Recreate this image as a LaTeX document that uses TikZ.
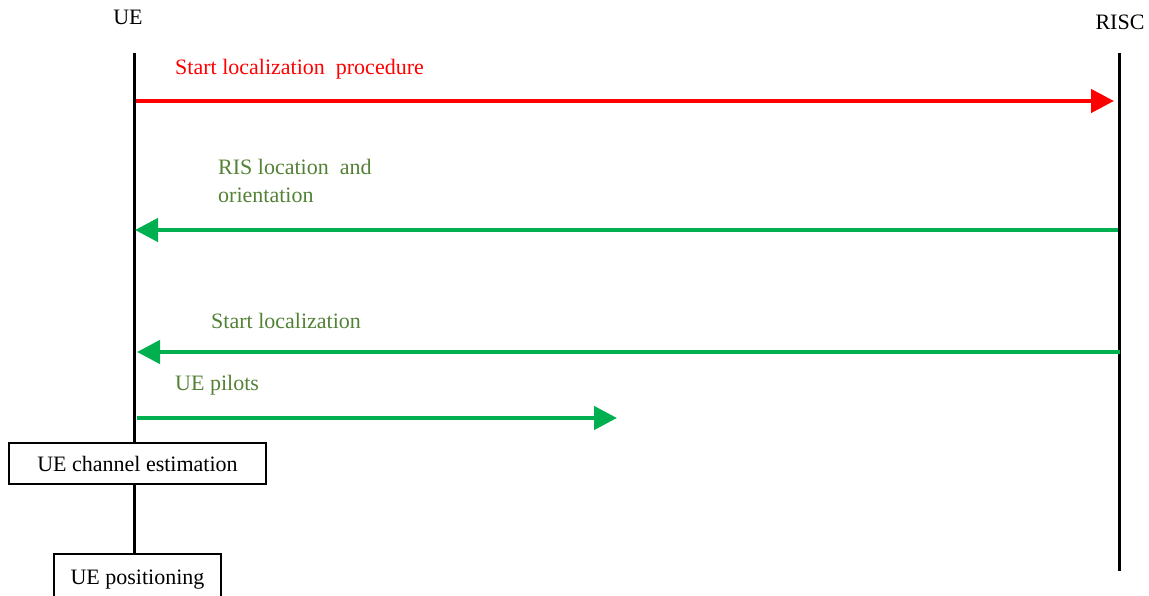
\documentclass[tikz,border=0pt]{standalone}
\usepackage{fontspec}
\setmainfont{Liberation Serif}
\usetikzlibrary{arrows.meta}
\definecolor{msgred}{HTML}{FF0000}
\definecolor{msggreen}{HTML}{00B050}
\definecolor{labelgreen}{HTML}{538135}
\tikzset{
  lifeline/.style={line width=3pt, black},
  msg/.style={line width=4.5pt, -{Triangle[length=23pt,width=23pt]}},
  label/.style={anchor=base west, inner sep=0pt, font=\fontsize{22}{28}\selectfont},
  actor/.style={inner sep=0pt, font=\fontsize{22}{28}\selectfont},
  procbox/.style={draw=black, line width=1.2pt, fill=white, inner sep=0pt,
                  font=\fontsize{22}{28}\selectfont},
}
\begin{document}
\begin{tikzpicture}[x=1pt, y=-1pt]
  \useasboundingbox (0,0) rectangle (1149,596);

  % actors
  \node[actor] (ue)   at (128,17.5) {UE};
  \node[actor] (risc) at (1120,22)  {RISC};

  % lifelines
  \coordinate (ueTop)   at (134,53);
  \coordinate (ueBot)   at (134,600);
  \coordinate (riscTop) at (1119,53);
  \coordinate (riscBot) at (1119,571);
  \draw[lifeline] (ueTop) -- (ueBot);
  \draw[lifeline] (riscTop) -- (riscBot);

  % message end points
  \coordinate (m1s) at (136,101);  \coordinate (m1e) at (1114,101);
  \coordinate (m2s) at (1118,230); \coordinate (m2e) at (135,230);
  \coordinate (m3s) at (1120,352); \coordinate (m3e) at (137,352);
  \coordinate (m4s) at (137,418);  \coordinate (m4e) at (617,418);

  \draw[msg, msgred]   (m1s) -- (m1e);
  \draw[msg, msggreen] (m2s) -- (m2e);
  \draw[msg, msggreen] (m3s) -- (m3e);
  \draw[msg, msggreen] (m4s) -- (m4e);

  % message labels
  \node[label, text=msgred]     (t1)  at (175,75)  {Start localization\ \ procedure};
  \node[label, text=labelgreen] (t2a) at (218,175) {RIS location\ \ and};
  \node[label, text=labelgreen] (t2b) at (218,203) {orientation};
  \node[label, text=labelgreen] (t3)  at (211,328) {Start localization};
  \node[label, text=labelgreen] (t4)  at (175,390) {UE pilots};

  % local processing steps
  \node[procbox, minimum width=257pt, minimum height=41pt] (est) at (137.5,463.5) {UE channel estimation};
  \node[procbox, minimum width=167pt, minimum height=51pt] (pos) at (137.5,579.5) {UE positioning};
\end{tikzpicture}
\end{document}
